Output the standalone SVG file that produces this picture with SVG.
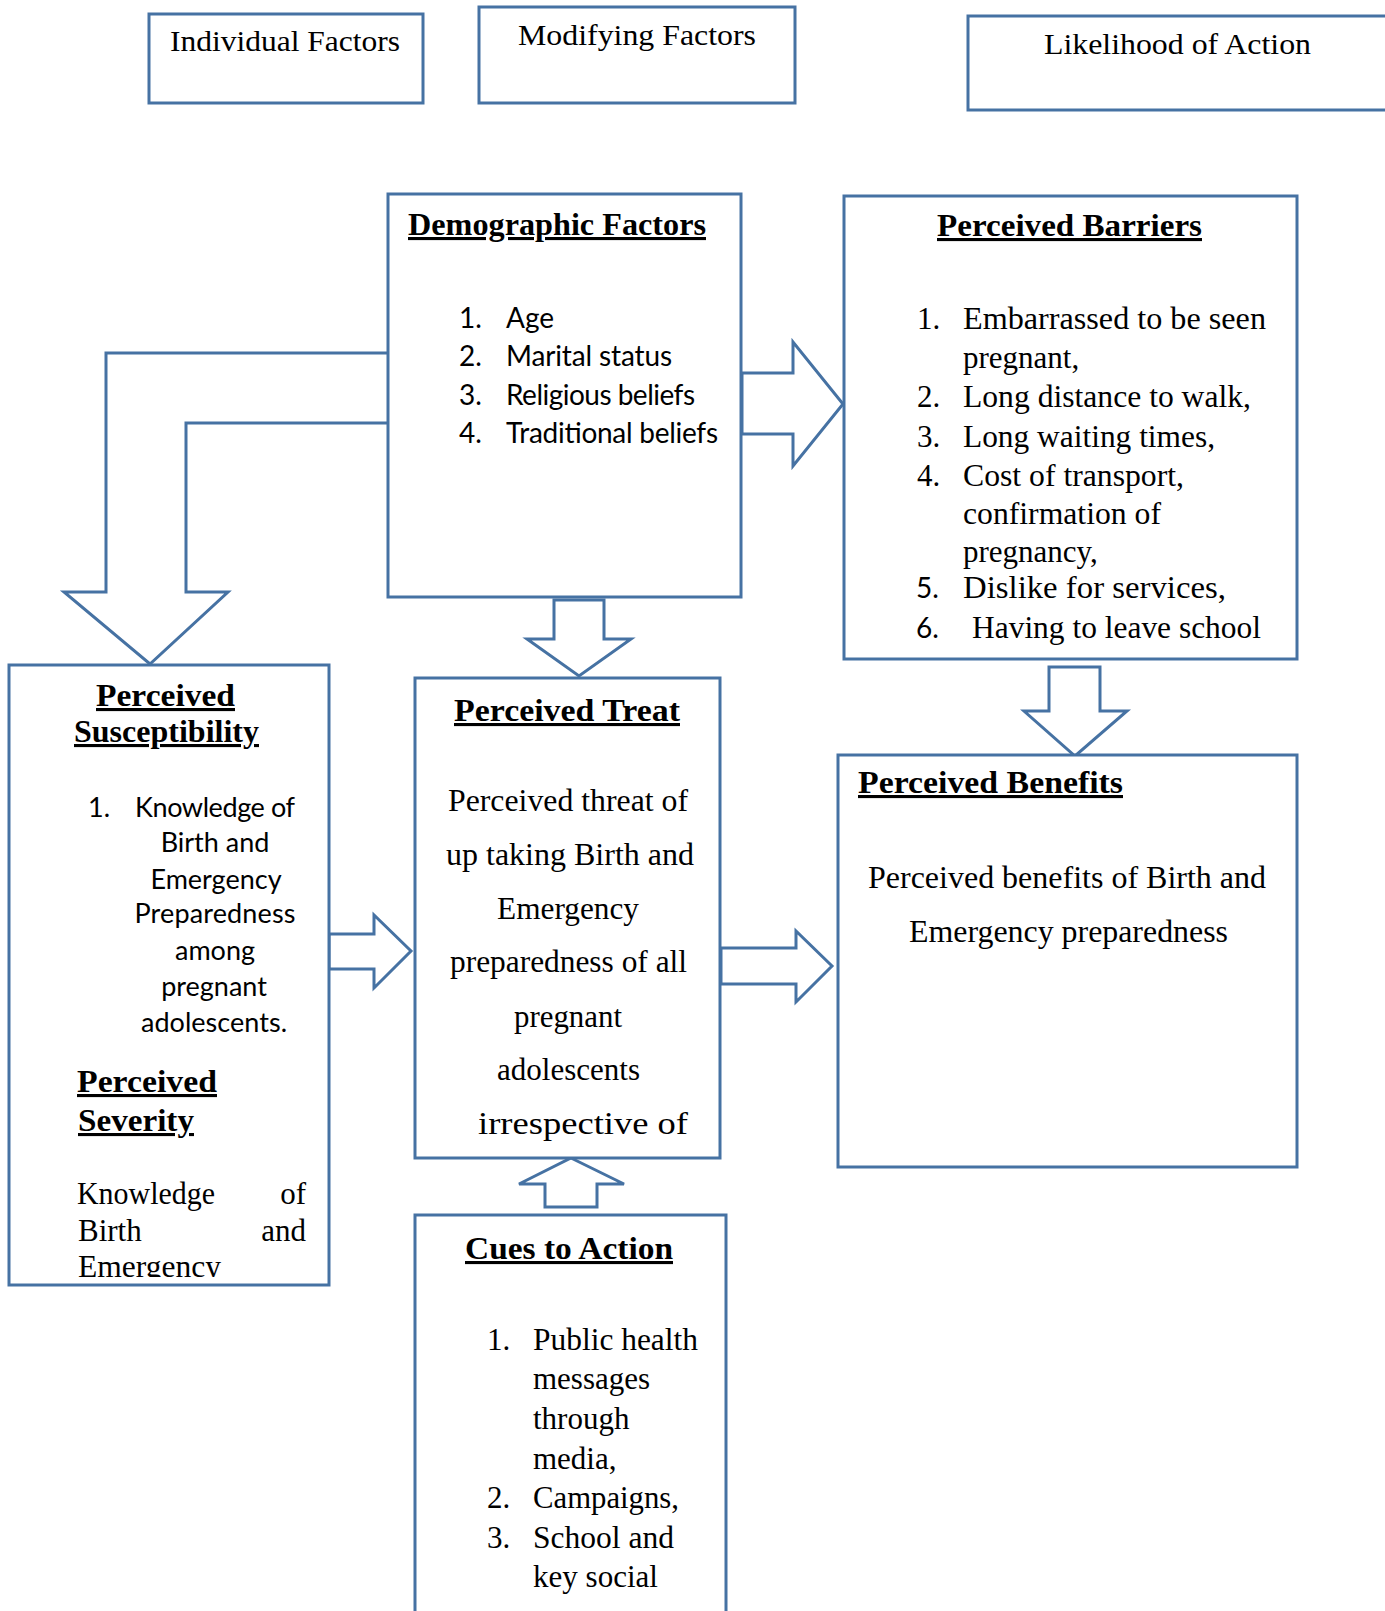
<svg xmlns="http://www.w3.org/2000/svg" width="1385" height="1611" viewBox="0 0 1385 1611">
<style>
.box{fill:#fff;stroke:#4672A3;stroke-width:3}
.arr{fill:#fff;stroke:#4672A3;stroke-width:3;stroke-linejoin:miter}
.serif{font-family:"Liberation Serif","Times New Roman",serif;fill:#000}
.sans{font-family:Lato,"Liberation Sans",sans-serif;fill:#000}
.t{font-size:31px}
.h{font-size:31px;font-weight:bold;text-decoration:underline}
.s{font-size:28px}
</style>
<defs>
<clipPath id="clipSusc"><rect x="9" y="665" width="320" height="612"/></clipPath>
</defs>
<g id="connectors">
<path class="arr" d="M388,353 L106,353 L106,592 L64,592 L150,664 L228,592 L186,592 L186,423 L388,423"/>
<polygon class="arr" points="742,373 793,373 793,342 843,404 793,466 793,434 742,434"/>
<polygon class="arr" points="554,600 604,600 604,639 631,639 579,676 527,639 554,639"/>
<polygon class="arr" points="329,934 374,934 374,915 411,951 374,988 374,969 329,969"/>
<polygon class="arr" points="721,948 796,948 796,931 832,966 796,1002 796,984 721,984"/>
<polygon class="arr" points="1049,667 1100,667 1100,711 1127,711 1075,756 1024,711 1049,711"/>
<polygon class="arr" points="571,1158 624,1184 597,1184 597,1207 545,1207 545,1184 519,1184"/>
</g>
<g id="individual-factors">
<rect class="box" x="149" y="14" width="274" height="89"/>
<text class="serif" font-size="30" x="170" y="51" textLength="230" lengthAdjust="spacingAndGlyphs">Individual Factors</text>
</g>
<g id="modifying-factors">
<rect class="box" x="479" y="7" width="316" height="96"/>
<text class="serif" font-size="30" x="518" y="45" textLength="238" lengthAdjust="spacingAndGlyphs">Modifying  Factors</text>
</g>
<g id="likelihood-of-action">
<rect class="box" x="968" y="16" width="430" height="94"/>
<text class="serif" font-size="30" x="1044" y="54" textLength="267" lengthAdjust="spacingAndGlyphs">Likelihood  of Action</text>
</g>
<g id="demographic-factors">
<rect class="box" x="388" y="194" width="353" height="403"/>
<text class="serif h" x="408" y="235" textLength="298" lengthAdjust="spacingAndGlyphs">Demographic Factors</text>
<g class="sans s">
<text x="459" y="328">1.</text><text x="506" y="328">Age</text>
<text x="459" y="366">2.</text><text x="506" y="366" textLength="166">Marital status</text>
<text x="459" y="405">3.</text><text x="506" y="405" textLength="189">Religious beliefs</text>
<text x="459" y="443">4.</text><text x="506" y="443" textLength="212">Traditional beliefs</text>
</g>
</g>
<g id="perceived-barriers">
<rect class="box" x="844" y="196" width="453" height="463"/>
<text class="serif h" x="937" y="236" textLength="265" lengthAdjust="spacingAndGlyphs">Perceived Barriers</text>
<g class="serif t">
<text x="917" y="329">1.</text><text x="963" y="329" textLength="303" lengthAdjust="spacingAndGlyphs">Embarrassed to be seen</text>
<text x="963" y="368">pregnant,</text>
<text x="917" y="407">2.</text><text x="963" y="407" textLength="288" lengthAdjust="spacingAndGlyphs">Long distance  to walk,</text>
<text x="917" y="447">3.</text><text x="963" y="447" textLength="252" lengthAdjust="spacingAndGlyphs">Long waiting  times,</text>
<text x="917" y="486">4.</text><text x="963" y="486" textLength="221" lengthAdjust="spacingAndGlyphs">Cost of transport,</text>
<text x="963" y="524" textLength="198" lengthAdjust="spacingAndGlyphs">confirmation  of</text>
<text x="963" y="562">pregnancy,</text>
<text x="963" y="598" textLength="263" lengthAdjust="spacingAndGlyphs">Dislike  for  services,</text>
<text x="972" y="638" textLength="289" lengthAdjust="spacingAndGlyphs">Having  to leave school</text>
</g>
<g class="sans s">
<text x="916" y="598">5.</text>
<text x="916" y="638">6.</text>
</g>
</g>
<g id="perceived-susceptibility">
<rect class="box" x="9" y="665" width="320" height="620"/>
<text class="serif h" x="96" y="706" textLength="139" lengthAdjust="spacingAndGlyphs">Perceived</text>
<text class="serif h" x="74" y="742" textLength="185" lengthAdjust="spacingAndGlyphs">Susceptibility</text>
<g class="sans" font-size="27">
<text x="88" y="817">1.</text>
<text x="135" y="817" textLength="160">Knowledge of</text>
<g text-anchor="middle">
<text x="215" y="852">Birth and</text>
<text x="216" y="889">Emergency</text>
<text x="215" y="923" textLength="161">Preparedness</text>
<text x="215" y="960">among</text>
<text x="214" y="996">pregnant</text>
<text x="214" y="1032" textLength="146">adolescents.</text>
</g>
</g>
<text class="serif h" x="77" y="1092" textLength="140" lengthAdjust="spacingAndGlyphs">Perceived</text>
<text class="serif h" x="78" y="1131" textLength="116" lengthAdjust="spacingAndGlyphs">Severity</text>
<g class="serif t" clip-path="url(#clipSusc)">
<text x="77" y="1204" textLength="138" lengthAdjust="spacingAndGlyphs">Knowledge</text>
<text x="306" y="1204" text-anchor="end">of</text>
<text x="78" y="1241">Birth</text>
<text x="306" y="1241" text-anchor="end">and</text>
<text x="78" y="1277" textLength="143" lengthAdjust="spacingAndGlyphs">Emergency</text>
</g>
</g>
<g id="perceived-treat">
<rect class="box" x="415" y="678" width="305" height="480"/>
<text class="serif h" x="454" y="721" textLength="226" lengthAdjust="spacingAndGlyphs">Perceived Treat</text>
<g class="serif t">
<text x="448" y="811" textLength="240" lengthAdjust="spacingAndGlyphs">Perceived threat of</text>
<text x="446" y="865" textLength="248" lengthAdjust="spacingAndGlyphs">up taking  Birth  and</text>
<text x="497" y="919" textLength="142" lengthAdjust="spacingAndGlyphs">Emergency</text>
<text x="450" y="972" textLength="237" lengthAdjust="spacingAndGlyphs">preparedness of all</text>
<text x="514" y="1027" textLength="108" lengthAdjust="spacingAndGlyphs">pregnant</text>
<text x="497" y="1080" textLength="143" lengthAdjust="spacingAndGlyphs">adolescents</text>
<text x="478" y="1134" textLength="210" lengthAdjust="spacingAndGlyphs">irrespective  of</text>
</g>
</g>
<g id="perceived-benefits">
<rect class="box" x="838" y="755" width="459" height="412"/>
<text class="serif h" x="858" y="793" textLength="265" lengthAdjust="spacingAndGlyphs">Perceived Benefits</text>
<g class="serif t">
<text x="868" y="888" textLength="398" lengthAdjust="spacingAndGlyphs">Perceived benefits of Birth and</text>
<text x="909" y="942" textLength="319" lengthAdjust="spacingAndGlyphs">Emergency preparedness</text>
</g>
</g>
<g id="cues-to-action">
<rect class="box" x="415" y="1215" width="311" height="420"/>
<text class="serif h" x="465" y="1259" textLength="208" lengthAdjust="spacingAndGlyphs">Cues to Action</text>
<g class="serif t">
<text x="487" y="1350">1.</text><text x="533" y="1350" textLength="165" lengthAdjust="spacingAndGlyphs">Public  health</text>
<text x="533" y="1389">messages</text>
<text x="533" y="1429">through</text>
<text x="533" y="1469">media,</text>
<text x="487" y="1508">2.</text><text x="533" y="1508" textLength="146" lengthAdjust="spacingAndGlyphs">Campaigns,</text>
<text x="487" y="1548">3.</text><text x="533" y="1548" textLength="141" lengthAdjust="spacingAndGlyphs">School and</text>
<text x="533" y="1587" textLength="125" lengthAdjust="spacingAndGlyphs">key social</text>
</g>
</g>
</svg>
